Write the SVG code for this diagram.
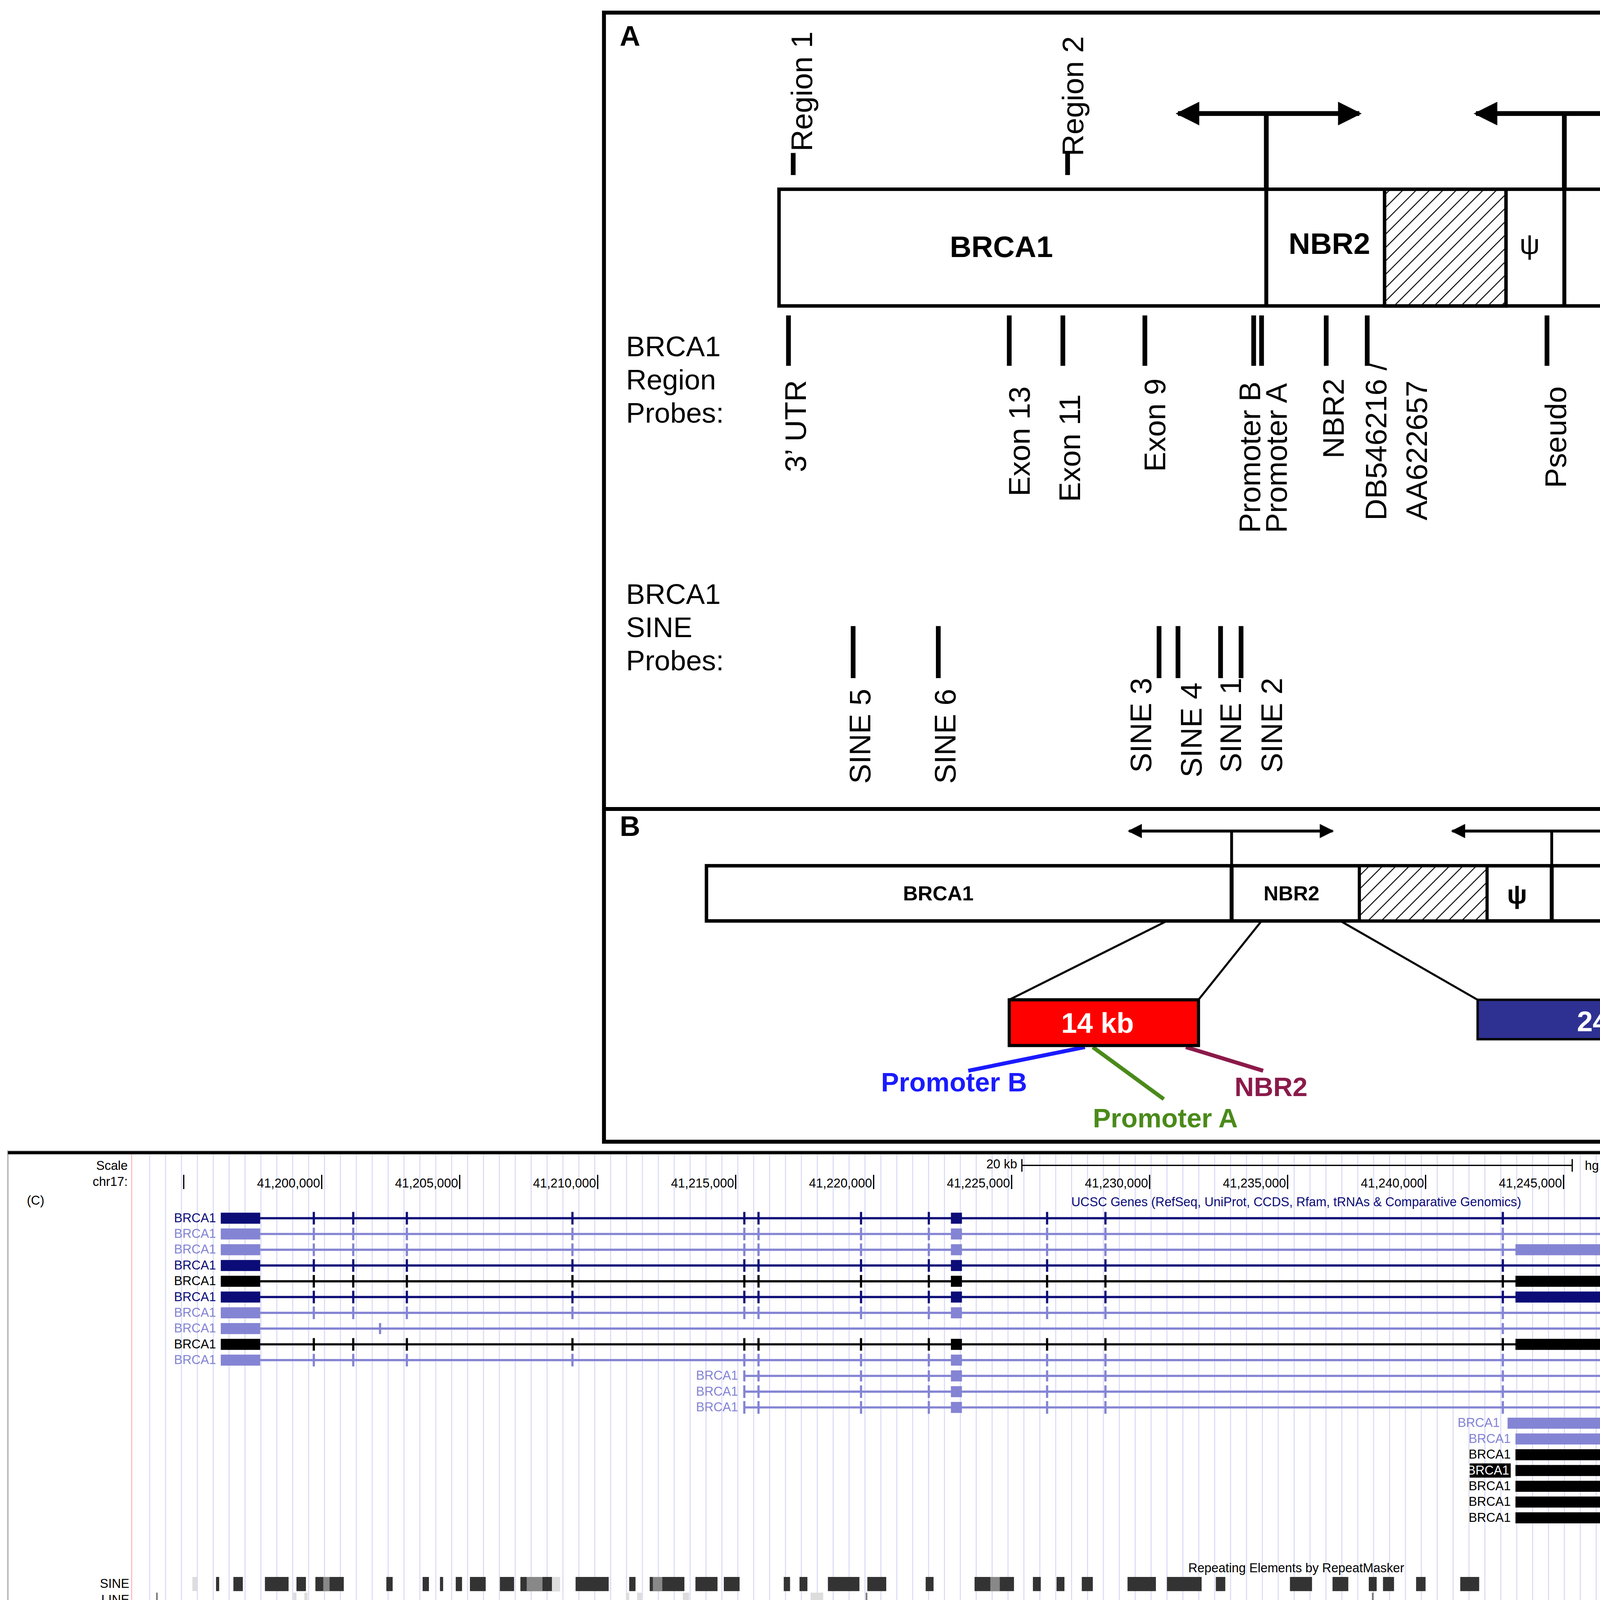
<svg xmlns="http://www.w3.org/2000/svg" xmlns:xlink="http://www.w3.org/1999/xlink" width="6330" height="4466" viewBox="0 0 6330 4466">
<style>
.frame{fill:none;stroke:#000;stroke-width:2.5}
.box{fill:#fff;stroke:#000;stroke-width:2.2}
.ln{stroke:#000;stroke-width:3;fill:none}
.t{font-family:"Liberation Sans",Arial,sans-serif;fill:#000}
.b{font-weight:bold}
.u{font-family:"Liberation Sans",Arial,sans-serif;font-size:8px}
.nv{stroke:#0c0c78;fill:#0c0c78}
.lt{stroke:#8484d4;fill:#8484d4}
.bk{stroke:#000;fill:#000}
.row{stroke-width:1.4}
</style>
<defs>
<pattern id="hatch" patternUnits="userSpaceOnUse" width="6" height="6" patternTransform="rotate(45)">
<rect width="6" height="6" fill="#fff"/><line x1="0" y1="0" x2="0" y2="6" stroke="#000" stroke-width="1.2"/>
</pattern>
<pattern id="grid" patternUnits="userSpaceOnUse" x="94.6" y="0" width="10.08" height="400">
<line x1="0.3" y1="0" x2="0.3" y2="400" stroke="#d6d6f6" stroke-width="0.6"/>
</pattern>
<marker id="ah" viewBox="0 0 10 10" refX="9" refY="5" markerWidth="6" markerHeight="5" orient="auto-start-reverse" markerUnits="strokeWidth"><path d="M0 0L10 5L0 10z" fill="#000"/></marker>
<marker id="ahs" viewBox="0 0 10 10" refX="9" refY="5" markerWidth="7" markerHeight="5" orient="auto-start-reverse" markerUnits="strokeWidth"><path d="M0 0L10 5L0 10z" fill="#000"/></marker>
<path id="tkA" d="M199 -4v8M224 -4v8M258 -4v8M363 -4v8M472 -4v8M481 -4v8M546 -4v8M589 -4v8M664 -4v8M701 -4v8M953 -4v8M1039 -4v8M1063 -4v8M1107 -4v8M1184 -4v8M1196 -4v8M1224 -4v8M1386 -4v8M1530 -4v8"/>
<path id="tkB" d="M472 -4v8M481 -4v8M546 -4v8M589 -4v8M664 -4v8M701 -4v8M953 -4v8M1039 -4v8M1063 -4v8M1107 -4v8M1184 -4v8M1196 -4v8M1224 -4v8M1386 -4v8M1530 -4v8"/>
<path id="tkC" d="M1039 -4v8M1063 -4v8M1107 -4v8M1184 -4v8M1196 -4v8M1224 -4v8M1386 -4v8M1530 -4v8"/>
</defs>
<rect width="6330" height="4466" fill="#fff"/>
<g transform="scale(4.037)">
<!-- Panel A/B frame -->
<g id="panelFrame">
<rect class="frame" x="383" y="8" width="780" height="716"/>
<line class="frame" x1="383" y1="513" x2="1163" y2="513"/>
<text class="t b" x="393" y="29" font-size="18">A</text>
<text class="t b" x="393" y="530" font-size="18">B</text>
</g>
<g id="geneMapA">
<rect class="box" x="494" y="120" width="649" height="74"/>
<rect x="878" y="120" width="77" height="74" fill="url(#hatch)" stroke="#000" stroke-width="2.2"/>
<line class="frame" x1="803" y1="120" x2="803" y2="194"/>
<line class="frame" x1="992" y1="120" x2="992" y2="194"/>
<text class="t b" x="635" y="163" font-size="19" text-anchor="middle">BRCA1</text>
<text class="t b" x="843" y="161" font-size="19" text-anchor="middle">NBR2</text>
<text class="t" x="970" y="161" font-size="18" text-anchor="middle" font-family="DejaVu Serif,serif">ψ</text>
<text class="t b" x="1057" y="163" font-size="19" text-anchor="middle">NBR1</text>
</g>
<g id="connectorsA">
<line class="ln" x1="803" y1="120" x2="803" y2="72"/>
<line x1="747" y1="72" x2="862" y2="72" stroke="#000" stroke-width="3" marker-start="url(#ah)" marker-end="url(#ah)"/>
<line class="ln" x1="992" y1="120" x2="992" y2="72"/>
<line x1="936" y1="72" x2="1052" y2="72" stroke="#000" stroke-width="3" marker-start="url(#ah)" marker-end="url(#ah)"/>
<line class="ln" x1="503" y1="97" x2="503" y2="111"/>
<line class="ln" x1="677" y1="97" x2="677" y2="111"/>
<path class="ln" d="M500 200v32M640 200v32M674 200v32M726 200v32M795 200v32M800 200v32M841 200v32M867 200v32M981 200v32"/>
<path class="ln" d="M541 397v33M595 397v33M735 397v33M747 397v33M774 397v33M787 397v33"/>
</g>
<g id="labelsA" class="t" font-size="19">
<text transform="translate(515,96) rotate(-90)">Region 1</text>
<text transform="translate(687,99) rotate(-90)">Region 2</text>
<text x="397" y="226" font-size="18">BRCA1</text>
<text x="397" y="247" font-size="18">Region</text>
<text x="397" y="268" font-size="18">Probes:</text>
<text transform="translate(511,241) rotate(-90)" text-anchor="end">3’ UTR</text>
<text transform="translate(653,245) rotate(-90)" text-anchor="end">Exon 13</text>
<text transform="translate(685,250) rotate(-90)" text-anchor="end">Exon 11</text>
<text transform="translate(739,240) rotate(-90)" text-anchor="end">Exon 9</text>
<text transform="translate(799,338) rotate(-90)">Promoter B</text>
<text transform="translate(816,338) rotate(-90)">Promoter A</text>
<text transform="translate(852,240) rotate(-90)" text-anchor="end">NBR2</text>
<text transform="translate(879,330) rotate(-90)">DB546216 /</text>
<text transform="translate(905,330) rotate(-90)">AA622657</text>
<text transform="translate(993,245) rotate(-90)" text-anchor="end">Pseudo</text>
<text x="397" y="383" font-size="18">BRCA1</text>
<text x="397" y="404" font-size="18">SINE</text>
<text x="397" y="425" font-size="18">Probes:</text>
<text transform="translate(552,497) rotate(-90)">SINE 5</text>
<text transform="translate(606,497) rotate(-90)">SINE 6</text>
<text transform="translate(730,490) rotate(-90)">SINE 3</text>
<text transform="translate(762,493) rotate(-90)">SINE 4</text>
<text transform="translate(787,490) rotate(-90)">SINE 1</text>
<text transform="translate(813,490) rotate(-90)">SINE 2</text>
</g>
<g id="geneMapB">
<rect class="box" x="448" y="549" width="699" height="35"/>
<rect x="862" y="549" width="81" height="35" fill="url(#hatch)" stroke="#000" stroke-width="2"/>
<line class="frame" x1="781" y1="549" x2="781" y2="584"/>
<line class="frame" x1="984" y1="549" x2="984" y2="584"/>
<text class="t b" x="595" y="571" font-size="13" text-anchor="middle">BRCA1</text>
<text class="t b" x="819" y="571" font-size="13" text-anchor="middle">NBR2</text>
<text class="t b" x="962" y="573" font-size="17" text-anchor="middle" font-family="DejaVu Serif,serif">ψ</text>
<text class="t b" x="1048" y="571" font-size="13" text-anchor="middle">NBR1</text>
</g>
<g id="connectorsB">
<line x1="781" y1="549" x2="781" y2="527" stroke="#000" stroke-width="1.8"/>
<line x1="716" y1="527" x2="845" y2="527" stroke="#000" stroke-width="1.8" marker-start="url(#ahs)" marker-end="url(#ahs)"/>
<line x1="984" y1="549" x2="984" y2="527" stroke="#000" stroke-width="1.8"/>
<line x1="921" y1="527" x2="1050" y2="527" stroke="#000" stroke-width="1.8" marker-start="url(#ahs)" marker-end="url(#ahs)"/>
<path d="M740 584L640 634M800 584L760 634M850 584L937 634M1015 584L1122 634" stroke="#000" stroke-width="1.3" fill="none"/>
<line x1="688" y1="664" x2="614" y2="679" stroke="#1a1aff" stroke-width="2.5"/>
<line x1="693" y1="664" x2="738" y2="697" stroke="#4a8a1a" stroke-width="2.5"/>
<line x1="752" y1="664" x2="801" y2="679" stroke="#8b1a4a" stroke-width="2.5"/>
</g>
<g id="box14kb">
<rect x="640" y="634" width="120" height="29" fill="#ff0000" stroke="#000" stroke-width="2"/>
<text class="t b" x="696" y="655" font-size="18" text-anchor="middle" fill="#fff" style="fill:#fff">14 kb</text>
</g>
<g id="box24kb">
<rect x="937" y="634" width="185" height="25" fill="#2e3192" stroke="#000" stroke-width="1.5"/>
<text class="t b" x="1023" y="654" font-size="18" text-anchor="middle" style="fill:#fff">24 kb</text>
</g>
<g id="labelsB" class="t b" font-size="17">
<text x="605" y="692" text-anchor="middle" style="fill:#1a1aff">Promoter B</text>
<text x="739" y="715" text-anchor="middle" style="fill:#4a8a1a">Promoter A</text>
<text x="806" y="695" text-anchor="middle" style="fill:#8b1a4a">NBR2</text>
</g>
<!-- Panel C -->
<g id="panelC">
<rect x="5" y="730" width="1555" height="371" fill="#fff" stroke="#bbb" stroke-width="1"/>
<rect x="94" y="731" width="1464" height="370" fill="url(#grid)"/>
<line x1="83.5" y1="731" x2="83.5" y2="1101" stroke="#ffb0b0" stroke-width="0.6"/>
<line x1="5" y1="731" x2="1560" y2="731" stroke="#000" stroke-width="2"/>
<line x1="5" y1="1101.5" x2="1560" y2="1101.5" stroke="#000" stroke-width="2"/>
<line x1="1560" y1="731" x2="1560" y2="1101" stroke="#000" stroke-width="1"/>
<rect x="5" y="1102.5" width="1555" height="4" fill="#e2e2e6"/>
<text class="u" x="81" y="742" text-anchor="end">Scale</text>
<text class="u" x="81" y="752" text-anchor="end">chr17:</text>
<text class="u" x="17" y="764">(C)</text>
<text class="u" x="645" y="741" text-anchor="end">20 kb</text>
<path d="M648 735v8M648 739H997M997 735v8" stroke="#000" stroke-width="0.8" fill="none"/>
<text class="u" x="1005" y="742">hg19</text>
<path d="M116.5 745v9M204 745v9M291.5 745v9M379 745v9M466.5 745v9M554 745v9M641.5 745v9M729 745v9M816.5 745v9M904 745v9M991.5 745v9M1079 745v9M1166.5 745v9M1254 745v9M1341.5 745v9M1429 745v9M1516.5 745v9" stroke="#000" stroke-width="0.8"/>
<g class="u" text-anchor="end">
<text x="203" y="753">41,200,000</text><text x="290.5" y="753">41,205,000</text><text x="378" y="753">41,210,000</text><text x="465.5" y="753">41,215,000</text><text x="553" y="753">41,220,000</text><text x="640.5" y="753">41,225,000</text><text x="728" y="753">41,230,000</text><text x="815.5" y="753">41,235,000</text><text x="903" y="753">41,240,000</text><text x="990.5" y="753">41,245,000</text><text x="1078" y="753">41,250,000</text><text x="1165.5" y="753">41,255,000</text><text x="1253" y="753">41,260,000</text><text x="1340.5" y="753">41,265,000</text><text x="1428" y="753">41,270,000</text><text x="1515.5" y="753">41,275,000</text>
</g>
<text class="u" x="822" y="765" text-anchor="middle" fill="#0c0c78">UCSC Genes (RefSeq, UniProt, CCDS, Rfam, tRNAs &amp; Comparative Genomics)</text>
</g>
<g id="ucscGenes" class="row">
<g class="nv"><text class="u" x="137" y="775" text-anchor="end" stroke="none">BRCA1</text><rect x="140" y="769" width="25" height="7" stroke="none"/><line x1="165" y1="772.5" x2="1530" y2="772.5"/><use href="#tkA" y="772.5"/><rect x="603" y="769" width="7" height="7" stroke="none"/></g>
<g class="lt"><text class="u" x="137" y="785" text-anchor="end" stroke="none">BRCA1</text><rect x="140" y="779" width="25" height="7" stroke="none"/><line x1="165" y1="782.5" x2="1553" y2="782.5"/><use href="#tkA" y="782.5"/><rect x="603" y="779" width="7" height="7" stroke="none"/><rect x="1551" y="779" width="3" height="7" stroke="none"/></g>
<g class="lt"><text class="u" x="137" y="795" text-anchor="end" stroke="none">BRCA1</text><rect x="140" y="789" width="25" height="7" stroke="none"/><line x1="165" y1="792.5" x2="1553" y2="792.5"/><use href="#tkA" y="792.5"/><rect x="603" y="789" width="7" height="7" stroke="none"/><rect x="961" y="789" width="59" height="7" stroke="none"/><rect x="1551" y="789" width="3" height="7" stroke="none"/></g>
<g class="nv"><text class="u" x="137" y="805" text-anchor="end" stroke="none">BRCA1</text><rect x="140" y="799" width="25" height="7" stroke="none"/><line x1="165" y1="802.5" x2="1553" y2="802.5"/><use href="#tkA" y="802.5"/><rect x="603" y="799" width="7" height="7" stroke="none"/><rect x="1551" y="799" width="3" height="7" stroke="none"/></g>
<g class="bk"><text class="u" x="137" y="815" text-anchor="end" stroke="none">BRCA1</text><rect x="140" y="809" width="25" height="7" stroke="none"/><line x1="165" y1="812.5" x2="1553" y2="812.5"/><use href="#tkA" y="812.5"/><rect x="603" y="809" width="7" height="7" stroke="none"/><rect x="961" y="809" width="59" height="7" stroke="none"/><rect x="1551" y="809" width="3" height="7" stroke="none"/></g>
<g class="nv"><text class="u" x="137" y="825" text-anchor="end" stroke="none">BRCA1</text><rect x="140" y="819" width="25" height="7" stroke="none"/><line x1="165" y1="822.5" x2="1553" y2="822.5"/><use href="#tkA" y="822.5"/><rect x="603" y="819" width="7" height="7" stroke="none"/><rect x="961" y="819" width="59" height="7" stroke="none"/><rect x="1551" y="819" width="3" height="7" stroke="none"/></g>
<g class="lt"><text class="u" x="137" y="835" text-anchor="end" stroke="none">BRCA1</text><rect x="140" y="829" width="25" height="7" stroke="none"/><line x1="165" y1="832.5" x2="1553" y2="832.5"/><use href="#tkA" y="832.5"/><rect x="603" y="829" width="7" height="7" stroke="none"/><rect x="1551" y="829" width="3" height="7" stroke="none"/></g>
<g class="lt"><text class="u" x="137" y="845" text-anchor="end" stroke="none">BRCA1</text><rect x="140" y="839" width="25" height="7" stroke="none"/><line x1="165" y1="842.5" x2="1553" y2="842.5"/><path d="M241 839v7M953 839v7"/><rect x="1551" y="839" width="3" height="7" stroke="none"/></g>
<g class="bk"><text class="u" x="137" y="855" text-anchor="end" stroke="none">BRCA1</text><rect x="140" y="849" width="25" height="7" stroke="none"/><line x1="165" y1="852.5" x2="1553" y2="852.5"/><use href="#tkA" y="852.5"/><rect x="603" y="849" width="7" height="7" stroke="none"/><rect x="961" y="849" width="59" height="7" stroke="none"/><rect x="1551" y="849" width="3" height="7" stroke="none"/></g>
<g class="lt"><text class="u" x="137" y="865" text-anchor="end" stroke="none">BRCA1</text><rect x="140" y="859" width="25" height="7" stroke="none"/><line x1="165" y1="862.5" x2="1553" y2="862.5"/><use href="#tkA" y="862.5"/><rect x="603" y="859" width="7" height="7" stroke="none"/><path d="M1552 859l4 3.5l-4 3.5M1555 859l4 3.5l-4 3.5" fill="none" stroke-width="0.8"/></g>
<g class="lt"><text class="u" x="468" y="875" text-anchor="end" stroke="none">BRCA1</text><line x1="472" y1="872.5" x2="1196" y2="872.5"/><path d="M472 869v7M481 869v7M546 869v7M589 869v7M664 869v7M701 869v7M953 869v7M1020 869v7M1107 869v7M1184 869v7M1196 869v7"/><rect x="603" y="869" width="7" height="7" stroke="none"/><text class="u" x="1552" y="875" text-anchor="end" stroke="none">NBR2</text></g>
<g class="lt"><text class="u" x="468" y="885" text-anchor="end" stroke="none">BRCA1</text><line x1="472" y1="882.5" x2="1553" y2="882.5"/><use href="#tkB" y="882.5"/><rect x="603" y="879" width="7" height="7" stroke="none"/><rect x="1551" y="879" width="3" height="7" stroke="none"/></g>
<g class="lt"><text class="u" x="468" y="895" text-anchor="end" stroke="none">BRCA1</text><line x1="472" y1="892.5" x2="1553" y2="892.5"/><use href="#tkB" y="892.5"/><rect x="603" y="889" width="7" height="7" stroke="none"/><rect x="1551" y="889" width="3" height="7" stroke="none"/></g>
<g class="lt"><text class="u" x="951" y="905" text-anchor="end" stroke="none">BRCA1</text><rect x="956" y="899" width="64" height="7" stroke="none"/><line x1="1020" y1="902.5" x2="1530" y2="902.5"/><use href="#tkC" y="902.5"/></g>
<g class="lt"><text class="u" x="958" y="915" text-anchor="end" stroke="none">BRCA1</text><rect x="961" y="909" width="59" height="7" stroke="none"/><line x1="1020" y1="912.5" x2="1196" y2="912.5"/><path d="M1184 909v7M1196 909v7"/><text class="u" x="1552" y="915" text-anchor="end" stroke="none">NBR2</text></g>
<g class="bk"><text class="u" x="958" y="925" text-anchor="end" stroke="none">BRCA1</text><rect x="961" y="919" width="59" height="7" stroke="none"/><line x1="1020" y1="922.5" x2="1553" y2="922.5"/><use href="#tkC" y="922.5"/><rect x="1551" y="919" width="3" height="7" stroke="none"/></g>
<g class="bk"><rect x="932" y="928" width="26" height="9" stroke="none"/><text class="u" x="957" y="935" text-anchor="end" stroke="none" fill="#fff">BRCA1</text><rect x="961" y="929" width="59" height="7" stroke="none"/><line x1="1020" y1="932.5" x2="1553" y2="932.5"/><use href="#tkC" y="932.5"/><rect x="1551" y="929" width="3" height="7" stroke="none"/></g>
<g class="bk"><text class="u" x="958" y="945" text-anchor="end" stroke="none">BRCA1</text><rect x="961" y="939" width="59" height="7" stroke="none"/><line x1="1020" y1="942.5" x2="1553" y2="942.5"/><use href="#tkC" y="942.5"/><path d="M1294 940v5"/><rect x="1551" y="939" width="3" height="7" stroke="none"/></g>
<g class="bk"><text class="u" x="958" y="955" text-anchor="end" stroke="none">BRCA1</text><rect x="961" y="949" width="59" height="7" stroke="none"/><line x1="1020" y1="952.5" x2="1553" y2="952.5"/><path d="M1039 949v7M1063 949v7M1107 949v7M1184 949v7M1196 949v7M1386 949v7M1530 949v7"/><rect x="1551" y="949" width="3" height="7" stroke="none"/></g>
<g class="bk"><text class="u" x="958" y="965" text-anchor="end" stroke="none">BRCA1</text><rect x="961" y="959" width="57" height="7" stroke="none"/><line x1="1018" y1="962.5" x2="1553" y2="962.5"/><rect x="1551" y="959" width="3" height="7" stroke="none"/></g>
<g class="lt"><text class="u" x="1552" y="975" text-anchor="end" stroke="none">NBR2</text><text class="u" x="1552" y="985" text-anchor="end" stroke="none">NBR2</text></g>
</g>
<g id="repeatMasker">
<text class="u" x="822" y="997" text-anchor="middle">Repeating Elements by RepeatMasker</text>
<g class="u" text-anchor="end">
<text x="82" y="1007">SINE</text><text x="82" y="1017">LINE</text><text x="82" y="1027">LTR</text><text x="82" y="1037">DNA</text><text x="82" y="1047">Simple</text><text x="82" y="1057">Low Complexity</text><text x="82" y="1067">Satellite</text><text x="82" y="1077">RNA</text><text x="82" y="1087">Other</text><text x="82" y="1097">Unknown</text>
</g>
<path fill="#333" d="M137 1000h2v9h-2zM148 1000h6v9h-6zM168 1000h15v9h-15zM188 1000h6v9h-6zM200 1000h18v9h-18zM245 1000h4v9h-4zM268 1000h4v9h-4zM279 1000h2v9h-2zM289 1000h4v9h-4zM298 1000h10v9h-10zM317 1000h9v9h-9zM330 1000h25v9h-25zM365 1000h21v9h-21zM399 1000h4v9h-4zM412 1000h22v9h-22zM441 1000h14v9h-14zM459 1000h10v9h-10zM497 1000h4v9h-4zM507 1000h5v9h-5zM525 1000h20v9h-20zM550 1000h12v9h-12zM587 1000h5v9h-5zM618 1000h25v9h-25zM655 1000h5v9h-5zM670 1000h5v9h-5zM686 1000h7v9h-7zM715 1000h18v9h-18zM740 1000h22v9h-22zM771 1000h6v9h-6zM818 1000h14v9h-14zM845 1000h10v9h-10zM868 1000h5v9h-5zM877 1000h7v9h-7zM898 1000h6v9h-6zM926 1000h12v9h-12zM1030 1000h20v9h-20zM1060 1000h10v9h-10zM1080 1000h25v9h-25zM1110 1000h20v9h-20zM1138 1000h44v9h-44zM1208 1000h10v9h-10zM1233 1000h42v9h-42zM1284 1000h62v9h-62zM1352 1000h8v9h-8zM1377 1000h6v9h-6zM1398 1000h22v9h-22zM1430 1000h16v9h-16zM1460 1000h15v9h-15zM1495 1000h8v9h-8zM1518 1000h5v9h-5zM1545 1000h5v9h-5z"/>
<path fill="#888" d="M205 1000h4v9h-4zM334 1000h10v9h-10zM414 1000h6v9h-6zM628 1000h6v9h-6zM1150 1000h8v9h-8zM1300 1000h10v9h-10z"/>
<path fill="#ddd" d="M122 1000h3v9h-3zM350 1000h5v9h-5z"/>
<path fill="#ddd" d="M186 1010h2v9h-2zM193 1010h2v9h-2zM397 1010h2v9h-2zM404 1010h3v9h-3zM433 1010h4v9h-4zM514 1010h8v9h-8zM1060 1010h3v9h-3zM1218 1010h3v9h-3zM1248 1010h3v9h-3zM1425 1010h6v9h-6zM1440 1010h4v9h-4z"/>
<path fill="#777" d="M99 1010h1v9h-1zM549 1010h1v9h-1zM870 1010h1v9h-1zM1230 1010h1v9h-1zM908 1020h1v9h-1z"/>
<rect x="128" y="1020" width="8" height="9" fill="#aaa"/>
<path fill="#888" d="M86 1030h3v9h-3zM94 1030h1v9h-1zM277 1030h1v9h-1zM280 1030h1v9h-1zM1190 1030h2v9h-2z"/>
<path fill="#ddd" d="M1306 1030h3v9h-3zM1318 1030h3v9h-3z"/>
<path stroke="#000" stroke-width="0.6" d="M288 1040v9M404 1040v9M410 1040v9M494 1040v9M548 1040v9M653 1040v9M868 1040v9M1122 1040v9M1186 1040v9M1268 1040v9M1333 1040v9M231 1050v9M675 1050v9M690 1050v9M697 1050v9M708 1050v9M1083 1050v9M1087 1050v9M1188 1050v9"/>
</g>
</g>
</svg>
